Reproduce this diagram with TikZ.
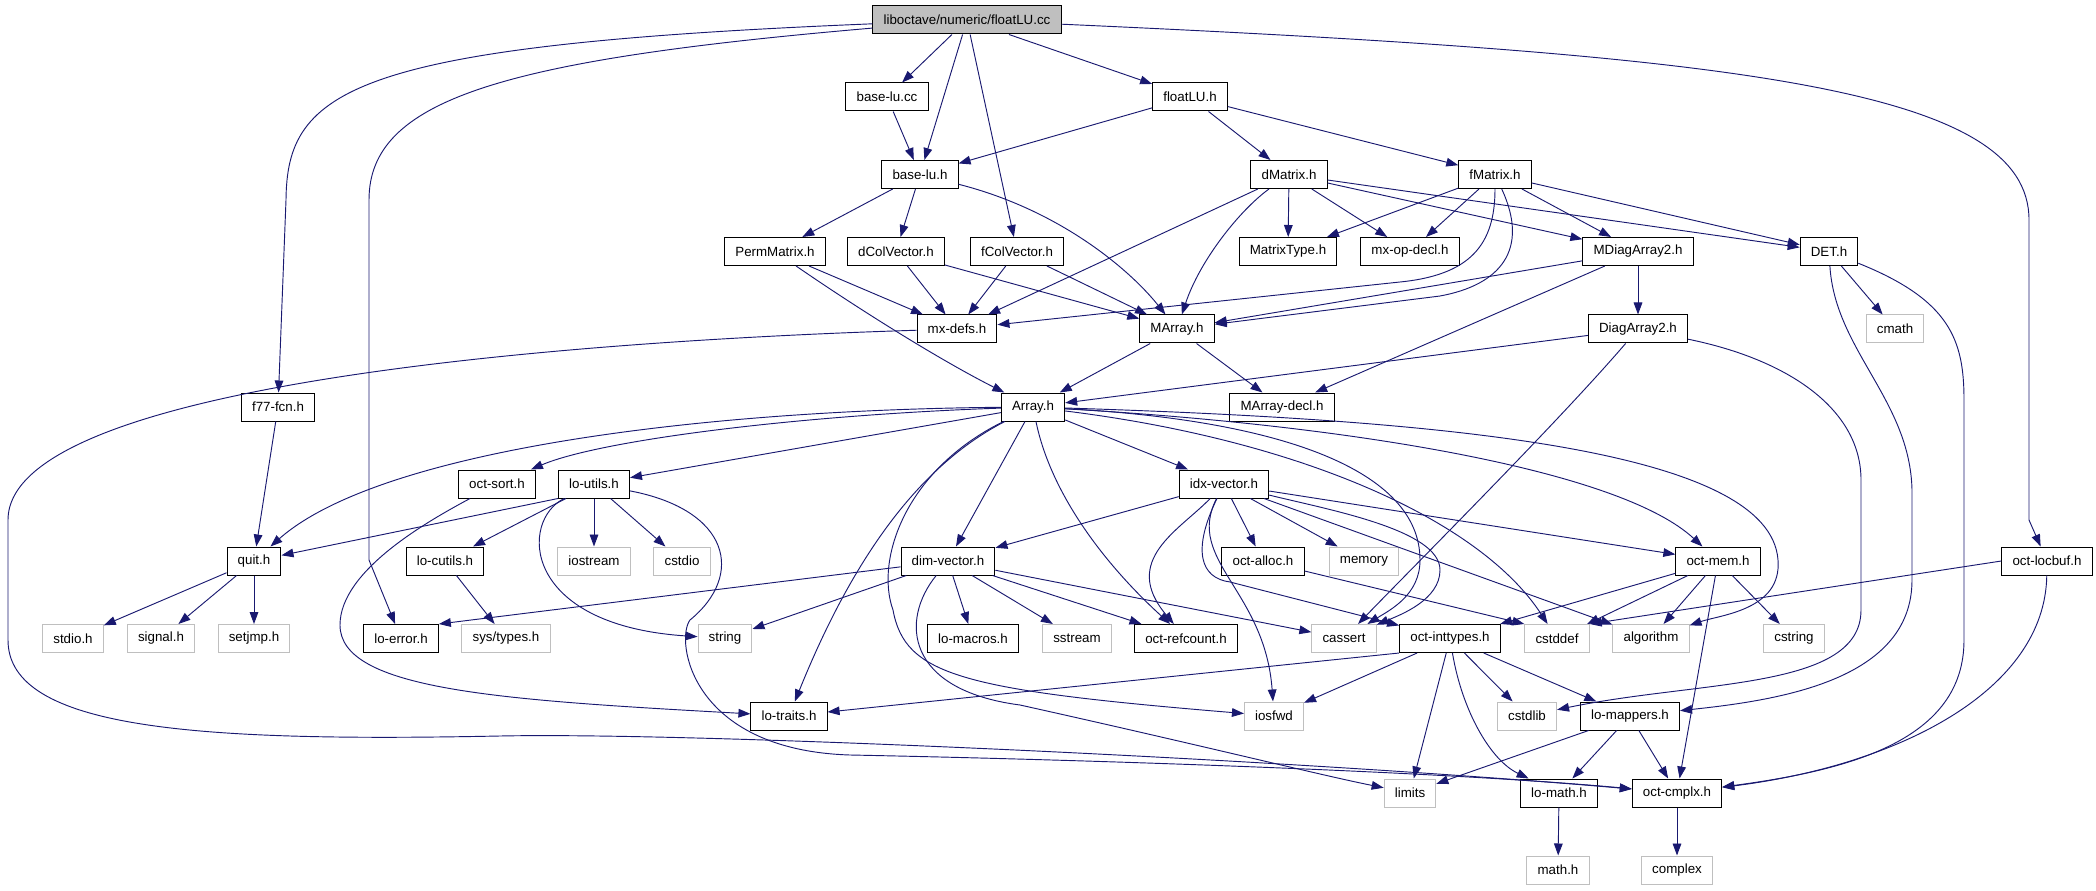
\documentclass[tikz,border=0pt]{standalone}
\usepackage{fontspec}
\setmainfont{Liberation Sans}
\usepackage{tikz}
\usetikzlibrary{arrows.meta}
\definecolor{incblue}{HTML}{191970}
\definecolor{sysgray}{HTML}{BFBFBF}

\begin{document}
\begin{tikzpicture}[x=0.75pt, y=-0.75pt,
  hdr/.style={draw=black, line width=0.75pt, minimum height=21pt, inner xsep=8pt, inner ysep=0pt, font=\fontsize{10pt}{12pt}\selectfont},
  sys/.style={hdr, draw=sysgray},
  src/.style={hdr, fill=sysgray},
  inc/.style={draw=incblue, line width=0.7pt, -{Triangle[length=9pt,width=6.5pt]}}]
\useasboundingbox (0,0) rectangle (2096,891);

\node[src] (cc) at (967,20) {liboctave/numeric/floatLU.cc};
\node[hdr] (blcc) at (887,97) {base-lu.cc};
\node[hdr] (flh) at (1190,97) {floatLU.h};
\node[hdr] (blh) at (920,174.5) {base-lu.h};
\node[hdr] (dmat) at (1289,174.5) {dMatrix.h};
\node[hdr] (fmat) at (1495,174.5) {fMatrix.h};
\node[hdr] (perm) at (775,251.5) {PermMatrix.h};
\node[hdr] (dcv) at (896,251.5) {dColVector.h};
\node[hdr] (fcv) at (1017,251.5) {fColVector.h};
\node[hdr] (mtype) at (1288,251.5) {MatrixType.h};
\node[hdr] (mxop) at (1410,251.5) {mx-op-decl.h};
\node[hdr] (mdiag) at (1638,251.5) {MDiagArray2.h};
\node[hdr] (det) at (1829,251.5) {DET.h};
\node[hdr] (mxdefs) at (957,329) {mx-defs.h};
\node[hdr] (marr) at (1177,329) {MArray.h};
\node[hdr] (diag) at (1638,329) {DiagArray2.h};
\node[sys] (cmath) at (1895,329) {cmath};
\node[hdr] (f77) at (278,407) {f77-fcn.h};
\node[hdr] (arr) at (1033,407) {Array.h};
\node[hdr] (mdecl) at (1282,407) {MArray-decl.h};
\node[hdr] (osort) at (497,484) {oct-sort.h};
\node[hdr] (lutil) at (594,484) {lo-utils.h};
\node[hdr] (idx) at (1224,484) {idx-vector.h};
\node[hdr] (quit) at (254,561) {quit.h};
\node[hdr] (lcut) at (445,561) {lo-cutils.h};
\node[sys] (iostr) at (594,561) {iostream};
\node[sys] (cstdio) at (682,561) {cstdio};
\node[hdr] (dimv) at (948,561) {dim-vector.h};
\node[hdr] (alloc) at (1263,561) {oct-alloc.h};
\node[sys] (memory) at (1364,561) {memory};
\node[hdr] (omem) at (1718,561) {oct-mem.h};
\node[hdr] (lbuf) at (2047,561) {oct-locbuf.h};
\node[sys] (stdio) at (73,638.5) {stdio.h};
\node[sys] (signal) at (161,638.5) {signal.h};
\node[sys] (setjmp) at (254,638.5) {setjmp.h};
\node[hdr] (lerr) at (401,638.5) {lo-error.h};
\node[sys] (systypes) at (506,638.5) {sys/types.h};
\node[sys] (string) at (725,638.5) {string};
\node[hdr] (lmac) at (973,638.5) {lo-macros.h};
\node[sys] (sstream) at (1077,638.5) {sstream};
\node[hdr] (refc) at (1186,638.5) {oct-refcount.h};
\node[sys] (cassert) at (1344,638.5) {cassert};
\node[hdr] (intt) at (1450,638.5) {oct-inttypes.h};
\node[sys] (cstddef) at (1557,638.5) {cstddef};
\node[sys] (algo) at (1651,638.5) {algorithm};
\node[sys] (cstring) at (1794,638.5) {cstring};
\node[hdr] (ltr) at (789,716) {lo-traits.h};
\node[sys] (iosfwd) at (1274,716) {iosfwd};
\node[sys] (cstdlib) at (1527,716) {cstdlib};
\node[hdr] (lmap) at (1630,716) {lo-mappers.h};
\node[sys] (limits) at (1410,793) {limits};
\node[hdr] (lmath) at (1559,793) {lo-math.h};
\node[hdr] (cmplx) at (1677,793) {oct-cmplx.h};
\node[sys] (mathh) at (1558,870) {math.h};
\node[sys] (complex) at (1677,870) {complex};

\draw[inc] (cc) -- (blcc);
\draw[inc] (cc) -- (blh);
\draw[inc] (cc) -- (fcv);
\draw[inc] (cc) -- (flh);
\draw[inc] (cc) .. controls (350,45) and (287,90) .. (286,200) -- (f77);
\draw[inc] (cc) .. controls (500,60) and (369,100) .. (369,200) -- (369,560) -- (lerr);
\draw[inc] (cc) .. controls (1750,55) and (2029,90) .. (2029,220) -- (2029,520) -- (lbuf);
\draw[inc] (blcc) -- (blh);
\draw[inc] (flh) -- (blh);
\draw[inc] (flh) -- (dmat);
\draw[inc] (flh) -- (fmat);
\draw[inc] (blh) -- (perm);
\draw[inc] (blh) -- (dcv);
\draw[inc] (blh) .. controls (1060,210) and (1130,270) .. (marr);
\draw[inc] (dmat) -- (mxdefs);
\draw[inc] (dmat) .. controls (1240,210) and (1200,260) .. (marr);
\draw[inc] (dmat) -- (mtype);
\draw[inc] (dmat) -- (mxop);
\draw[inc] (dmat) -- (mdiag);
\draw[inc] (dmat) -- (det);
\draw[inc] (fmat) -- (mtype);
\draw[inc] (fmat) -- (mxop);
\draw[inc] (fmat) -- (mdiag);
\draw[inc] (fmat) -- (det);
\draw[inc] (fmat) .. controls (1495,245) and (1470,275) .. (1400,282) -- (mxdefs);
\draw[inc] (fmat) .. controls (1530,250) and (1500,285) .. (1440,296) -- (marr);
\draw[inc] (perm) -- (mxdefs);
\draw[inc] (perm) .. controls (860,310) and (940,360) .. (arr);
\draw[inc] (dcv) -- (mxdefs);
\draw[inc] (dcv) -- (marr);
\draw[inc] (fcv) -- (mxdefs);
\draw[inc] (fcv) -- (marr);
\draw[inc] (mdiag) -- (marr);
\draw[inc] (mdiag) -- (diag);
\draw[inc] (mdiag) -- (mdecl);
\draw[inc] (det) -- (cmath);
\draw[inc] (det) .. controls (1835,350) and (1910,400) .. (1912,490) -- (1912,580) .. controls (1912,680) and (1780,700) .. (lmap);
\draw[inc] (det) .. controls (1950,300) and (1964,340) .. (1964,400) -- (1964,640) .. controls (1964,740) and (1850,770) .. (cmplx);
\draw[inc] (mxdefs) .. controls (600,340) and (8,380) .. (8,520) -- (8,640) .. controls (8,730) and (200,742) .. (500,736) .. controls (700,732) and (1300,760) .. (cmplx);
\draw[inc] (marr) -- (arr);
\draw[inc] (marr) -- (mdecl);
\draw[inc] (diag) -- (arr);
\draw[inc] (diag) .. controls (1560,420) and (1420,560) .. (cassert);
\draw[inc] (diag) .. controls (1790,360) and (1861,410) .. (1861,480) -- (1861,610) .. controls (1861,690) and (1700,680) .. (cstdlib);
\draw[inc] (f77) -- (quit);
\draw[inc] (arr) .. controls (700,410) and (380,450) .. (quit);
\draw[inc] (arr) .. controls (800,415) and (600,440) .. (osort);
\draw[inc] (arr) -- (lutil);
\draw[inc] (arr) .. controls (930,460) and (860,540) .. (ltr);
\draw[inc] (arr) .. controls (905,470) and (875,560) .. (893,610) .. controls (905,675) and (960,690) .. (iosfwd);
\draw[inc] (arr) -- (dimv);
\draw[inc] (arr) .. controls (1050,490) and (1100,560) .. (refc);
\draw[inc] (arr) -- (idx);
\draw[inc] (arr) .. controls (1280,420) and (1420,470) .. (1420,560) .. controls (1420,595) and (1390,610) .. (cassert);
\draw[inc] (arr) .. controls (1300,440) and (1480,520) .. (cstddef);
\draw[inc] (arr) .. controls (1350,425) and (1620,470) .. (omem);
\draw[inc] (arr) .. controls (1450,420) and (1770,450) .. (1778,560) .. controls (1782,610) and (1720,615) .. (algo);
\draw[inc] (osort) .. controls (430,520) and (340,570) .. (340,625) .. controls (340,690) and (500,700) .. (ltr);
\draw[inc] (lutil.south west) -- (quit);
\draw[inc] (lutil) -- (lcut);
\draw[inc] (lutil) -- (iostr);
\draw[inc] (lutil) -- (cstdio);
\draw[inc] (lutil) .. controls (520,520) and (520,625) .. (string);
\draw[inc] (lutil) .. controls (730,510) and (745,575) .. (690,620) .. controls (675,640) and (690,750) .. (850,755) .. controls (1100,760) and (1450,772) .. (cmplx);
\draw[inc] (idx) -- (dimv);
\draw[inc] (idx) .. controls (1180,530) and (1120,560) .. (refc);
\draw[inc] (idx) .. controls (1185,560) and (1265,590) .. (iosfwd);
\draw[inc] (idx) .. controls (1192,550) and (1200,578) .. (1230,582) -- (intt);
\draw[inc] (idx) -- (alloc);
\draw[inc] (idx) -- (memory);
\draw[inc] (idx) -- (omem);
\draw[inc] (idx) .. controls (1330,510) and (1440,530) .. (1440,570) .. controls (1440,600) and (1400,615) .. (cassert);
\draw[inc] (idx) -- (algo);
\draw[inc] (quit) -- (stdio);
\draw[inc] (quit) -- (signal);
\draw[inc] (quit) -- (setjmp);
\draw[inc] (lcut) -- (systypes);
\draw[inc] (dimv) -- (lerr.north east);
\draw[inc] (dimv) -- (string);
\draw[inc] (dimv) -- (lmac);
\draw[inc] (dimv) -- (sstream);
\draw[inc] (dimv) -- (refc);
\draw[inc] (dimv) -- (cassert);
\draw[inc] (dimv) .. controls (900,620) and (905,690) .. (1020,705) .. controls (1200,745) and (1320,775) .. (limits);
\draw[inc] (alloc) -- (cstddef.north west);
\draw[inc] (omem) -- (intt);
\draw[inc] (omem) -- (cstddef);
\draw[inc] (omem) -- (algo);
\draw[inc] (omem) -- (cstring);
\draw[inc] (omem) -- (cmplx);
\draw[inc] (lbuf.west) -- (cstddef.north east);
\draw[inc] (lbuf) .. controls (2045,690) and (1900,765) .. (cmplx);
\draw[inc] (intt.south west) -- (ltr);
\draw[inc] (intt) -- (iosfwd);
\draw[inc] (intt) -- (limits);
\draw[inc] (intt) .. controls (1462,710) and (1490,760) .. (lmath);
\draw[inc] (intt) -- (cstdlib);
\draw[inc] (intt) -- (lmap);
\draw[inc] (lmap) -- (limits);
\draw[inc] (lmap) -- (lmath);
\draw[inc] (lmap) -- (cmplx);
\draw[inc] (lmath) -- (mathh);
\draw[inc] (cmplx) -- (complex);
\end{tikzpicture}
\end{document}
